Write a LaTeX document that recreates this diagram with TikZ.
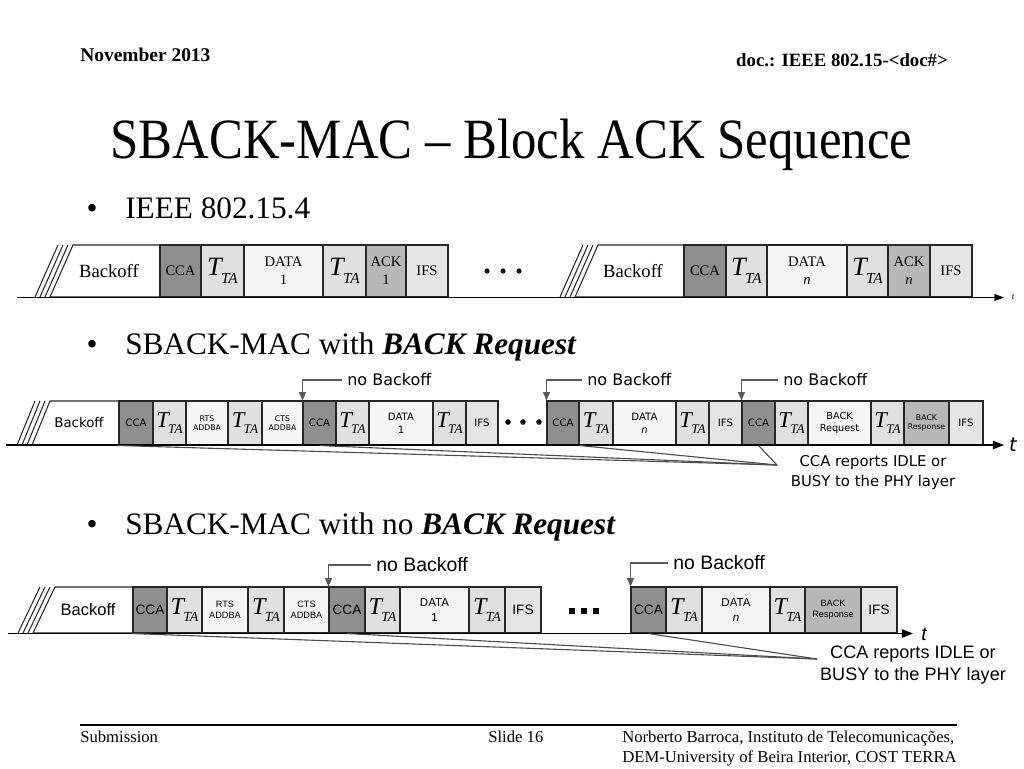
\documentclass[tikz,border=0pt]{standalone}
\usepackage{fontspec}
\setmainfont{Liberation Serif}
\newfontfamily\dvs{DejaVu Sans}
\newfontfamily\arl{Liberation Sans}
\usetikzlibrary{arrows.meta,calc}
\definecolor{ccag}{gray}{0.56}
\definecolor{ttg}{gray}{0.88}
\definecolor{datg}{gray}{0.96}
\definecolor{ackg}{gray}{0.72}
\definecolor{ifsg}{gray}{0.90}
\newcommand\fsz[2]{\fontsize{#1}{#2}\selectfont}
\newcommand\tta[2]{{\rmfamily\fsz{#1}{#1}\itshape T\kern-0.03em\raisebox{-0.28em}{\fsz{#2}{#2}TA}}}
\newcommand\blk[7]{\node[box,#6,minimum width={(#3-#2)*0.72pt},minimum height={(#5-#4)*0.72pt}] (#1) at ({(#2+#3)/2},{(#4+#5)/2}) {#7};}
\newcommand\bA[5]{\blk{#1}{#2}{#3}{245}{297}{#4}{#5}}
\newcommand\bB[5]{\blk{#1}{#2}{#3}{401}{445}{#4}{#5}}
\newcommand\bC[5]{\blk{#1}{#2}{#3}{587}{633}{#4}{#5}}
\begin{document}
\begin{tikzpicture}[x=0.72pt,y=-0.72pt,
  box/.style={draw=black!85,line width=0.75pt,inner sep=0pt,align=center},
  fcca/.style={fill=ccag}, ftt/.style={fill=ttg}, fdat/.style={fill=datg},
  fack/.style={fill=ackg}, fifs/.style={fill=ifsg},
  da/.style={font=\rmfamily\fsz{10.5}{13}},
  db/.style={font=\dvs\fsz{7.3}{9.5}},
  dbs/.style={font=\dvs\fsz{5.6}{6.8}},
  dc/.style={font=\arl\fsz{9.8}{11.5}},
  dcs/.style={font=\arl\fsz{6.6}{7.8}},
  tline/.style={line width=1.1pt,draw=black},
  hatch/.style={line width=0.75pt,draw=black!85},
  nbarrow/.style={draw=black!65,line width=0.9pt,-{Triangle[length=6pt,width=5pt]}},
  callout/.style={draw=black!70,line width=0.8pt},
  txt/.style={inner sep=0pt}
]
\path[use as bounding box] (0,0) rectangle (1024,768);

% header
\node[txt,anchor=base west,font=\bfseries\fsz{14}{16}] (hd1) at (80,61) {November 2013};
\node[txt,anchor=base east,font=\bfseries\fsz{13.5}{16}] (hd2) at (948,66) {doc.: IEEE 802.15-<doc\#>};
% title
\node[txt,anchor=base,font=\fsz{36.6}{40}] (title) at (511.5,158) {\scalebox{1}[1.12]{SBACK-MAC – Block ACK Sequence}};
% bullets
\node[txt,anchor=base,font=\fsz{22.5}{27}] (bd1) at (92,218) {•};
\node[txt,anchor=base west,font=\fsz{22.5}{27}] (bt1) at (125,218) {IEEE 802.15.4};
\node[txt,anchor=base,font=\fsz{22.5}{27}] (bd2) at (92,354) {•};
\node[txt,anchor=base west,font=\fsz{22.5}{27}] (bt2) at (125,354) {SBACK-MAC with \textbf{\textit{BACK Request}}};
\node[txt,anchor=base,font=\fsz{22.5}{27}] (bd3) at (92,534) {•};
\node[txt,anchor=base west,font=\fsz{22.5}{27}] (bt3) at (125,534) {SBACK-MAC with no \textbf{\textit{BACK Request}}};

% ===== Diagram 1 =====
\foreach \d in {5,10,15} \draw[hatch] ({73-\d},245) -- ({50-\d},297);
\draw[box,fill=white] (73,245) -- (160,245) -- (160,297) -- (50,297) -- cycle;
\node[txt,font=\rmfamily\fsz{13.4}{15}] (bk11) at (109,271) {Backoff};
\bA{a1c}{160}{201}{fcca,da}{CCA}
\bA{a1t1}{201}{244}{ftt}{\tta{19}{11}}
\bA{a1d}{244}{323}{fdat,da}{DATA\\1}
\bA{a1t2}{323}{366}{ftt}{\tta{19}{11}}
\bA{a1a}{366}{406}{fack,da}{ACK\\1}
\bA{a1i}{406}{448}{fifs,da}{IFS}
\foreach \x in {487,503,519} \fill (\x,271) circle (2.6);
\foreach \d in {5,10,15} \draw[hatch] ({598-\d},245) -- ({575-\d},297);
\draw[box,fill=white] (598,245) -- (684,245) -- (684,297) -- (575,297) -- cycle;
\node[txt,font=\rmfamily\fsz{13.4}{15}] (bk12) at (633,271) {Backoff};
\bA{a2c}{684}{726}{fcca,da}{CCA}
\bA{a2t1}{726}{767}{ftt}{\tta{19}{11}}
\bA{a2d}{767}{847}{fdat,da}{DATA\\\textit{n}}
\bA{a2t2}{847}{888}{ftt}{\tta{19}{11}}
\bA{a2a}{888}{930}{fack,da}{ACK\\\textit{n}}
\bA{a2i}{930}{972}{fifs,da}{IFS}
\coordinate (t1s) at (17,297.5);
\coordinate (t1e) at (1004,297.5);
\draw[tline,-{Triangle[length=7pt,width=5pt]}] (t1s) -- (t1e);
\node[txt,font=\rmfamily\itshape\fsz{6.5}{7}] (t1l) at (1013,297) {t};

% ===== Diagram 2 =====
\foreach \d in {5,10,15} \draw[hatch] ({50-\d},401) -- ({32-\d},445);
\draw[box,fill=white] (50,401) -- (119,401) -- (119,445) -- (32,445) -- cycle;
\node[txt,font=\dvs\fsz{9.6}{11}] (bk21) at (79,423) {Backoff};
\bB{c21}{119}{153}{fcca,db}{CCA}
\bB{b2t1}{153}{186}{ftt}{\tta{16.3}{9.5}}
\bB{b2r}{186}{228}{fdat,dbs}{RTS\\ADDBA}
\bB{b2t2}{228}{262}{ftt}{\tta{16.3}{9.5}}
\bB{b2s}{262}{303}{fdat,dbs}{CTS\\ADDBA}
\bB{c22}{303}{336}{fcca,db}{CCA}
\bB{b2t3}{336}{369}{ftt}{\tta{16.3}{9.5}}
\bB{b2d}{369}{433}{fdat,db}{DATA\\1}
\bB{b2t4}{433}{466}{ftt}{\tta{16.3}{9.5}}
\bB{b2i}{466}{498}{fifs,db}{IFS}
\foreach \x in {508,523,539} \fill (\x,422) circle (2.8);
\bB{c23}{547}{579}{fcca,db}{CCA}
\bB{b2t5}{579}{613}{ftt}{\tta{16.3}{9.5}}
\bB{b2dn}{613}{676}{fdat,db}{DATA\\\textit{n}}
\bB{b2t6}{676}{709}{ftt}{\tta{16.3}{9.5}}
\bB{b2i2}{709}{742}{fifs,db}{IFS}
\bB{c24}{742}{775}{fcca,db}{CCA}
\bB{b2t7}{775}{808}{ftt}{\tta{16.3}{9.5}}
\bB{b2q}{808}{871}{fdat,font=\dvs\fsz{7}{9}}{BACK\\Request}
\bB{b2t8}{871}{904}{ftt}{\tta{16.3}{9.5}}
\bB{b2p}{904}{949}{fack,dbs}{BACK\\Response}
\bB{b2i3}{949}{983}{fifs,db}{IFS}
\coordinate (t2s) at (6,445);
\coordinate (t2e) at (1004,445);
\draw[tline,-{Triangle[length=8pt,width=6pt]}] (t2s) -- (t2e);
\node[txt,font=\dvs\itshape\fsz{14}{15}] (t2l) at (1013,445) {t};
% no Backoff
\node[anchor=west,inner sep=4pt,font=\dvs\fsz{11.5}{13}] (n21) at (341.5,380) {no Backoff};
\node[anchor=west,inner sep=4pt,font=\dvs\fsz{11.5}{13}] (n22) at (581.5,380) {no Backoff};
\node[anchor=west,inner sep=4pt,font=\dvs\fsz{11.5}{13}] (n23) at (777.5,380) {no Backoff};
\draw[nbarrow] (n21.west) -| (c22.north west);
\draw[nbarrow] (n22.west) -| (c23.north west);
\draw[nbarrow] (n23.west) -| (c24.north west);
% callout
\coordinate (cv2) at (777,465);
\draw[callout] (c21.south west) -- (cv2);
\draw[callout] (c22.south) -- (cv2);
\draw[callout] (c23.south east) -- (cv2);
\draw[callout] (c24.south) -- (cv2);
\node[txt,align=center,font=\dvs\fsz{10.7}{15}] (co2) at (873,472.5) {CCA reports IDLE or\\BUSY to the PHY layer};

% ===== Diagram 3 =====
\foreach \d in {5,10,15} \draw[hatch] ({55-\d},587) -- ({33-\d},633);
\draw[box,fill=white] (55,587) -- (133,587) -- (133,633) -- (33,633) -- cycle;
\node[txt,font=\arl\fsz{11.9}{13}] (bk31) at (88,610) {Backoff};
\bC{c31}{133}{167}{fcca,dc}{CCA}
\bC{c3t1}{167}{202}{ftt}{\tta{17.4}{10}}
\bC{c3r}{202}{248}{fdat,dcs}{RTS\\ADDBA}
\bC{c3t2}{248}{284}{ftt}{\tta{17.4}{10}}
\bC{c3s}{284}{329}{fdat,dcs}{CTS\\ADDBA}
\bC{c32}{329}{365}{fcca,dc}{CCA}
\bC{c3t3}{365}{400}{ftt}{\tta{17.4}{10}}
\bC{c3d}{400}{469}{fdat,font=\arl\fsz{8.3}{11}}{DATA\\1}
\bC{c3t4}{469}{505}{ftt}{\tta{17.4}{10}}
\bC{c3i}{505}{541}{fifs,dc}{IFS}
\foreach \x in {572,584,596} \fill (\x-3,608) rectangle (\x+3,614);
\bC{c33}{631}{666}{fcca,dc}{CCA}
\bC{c3t5}{666}{702}{ftt}{\tta{17.4}{10}}
\bC{c3dn}{702}{770}{fdat,font=\arl\fsz{8.3}{11}}{DATA\\\textit{n}}
\bC{c3t6}{770}{805}{ftt}{\tta{17.4}{10}}
\bC{c3p}{805}{861}{fack,dcs}{BACK\\Response}
\bC{c3i2}{861}{897}{fifs,dc}{IFS}
\coordinate (t3s) at (8,633.5);
\coordinate (t3e) at (913,633.5);
\draw[tline,-{Triangle[length=8pt,width=6pt]}] (t3s) -- (t3e);
\node[txt,font=\arl\itshape\fsz{14}{15}] (t3l) at (924,634) {t};
\node[anchor=west,inner sep=4pt,font=\arl\fsz{14}{15}] (n31) at (370.5,565) {no Backoff};
\node[anchor=west,inner sep=4pt,font=\arl\fsz{14}{15}] (n32) at (667.5,563) {no Backoff};
\draw[nbarrow] (n31.west) -| (c32.north west);
\draw[nbarrow] (n32.west) -| (c33.north west);
\coordinate (cv3) at (817,659);
\draw[callout] (c31.south west) -- (cv3);
\draw[callout] (c32.south) -- (cv3);
\draw[callout] (c33.south) -- (cv3);
\node[txt,align=center,font=\arl\fsz{13}{16}] (co3) at (913,665) {CCA reports IDLE or\\BUSY to the PHY layer};

% footer
\draw[line width=1pt] (80,725) -- (957,725);
\node[txt,anchor=base west,font=\fsz{12}{14}] (f1) at (80,742) {Submission};
\node[txt,anchor=base west,font=\fsz{12}{14}] (f2) at (488,742) {Slide 16};
\node[txt,anchor=base west,font=\fsz{12}{14}] (f3) at (622,742) {Norberto Barroca, Instituto de Telecomunicações,};
\node[txt,anchor=base west,font=\fsz{12}{14}] (f4) at (622,762) {DEM-University of Beira Interior, COST TERRA};
\end{tikzpicture}
\end{document}
